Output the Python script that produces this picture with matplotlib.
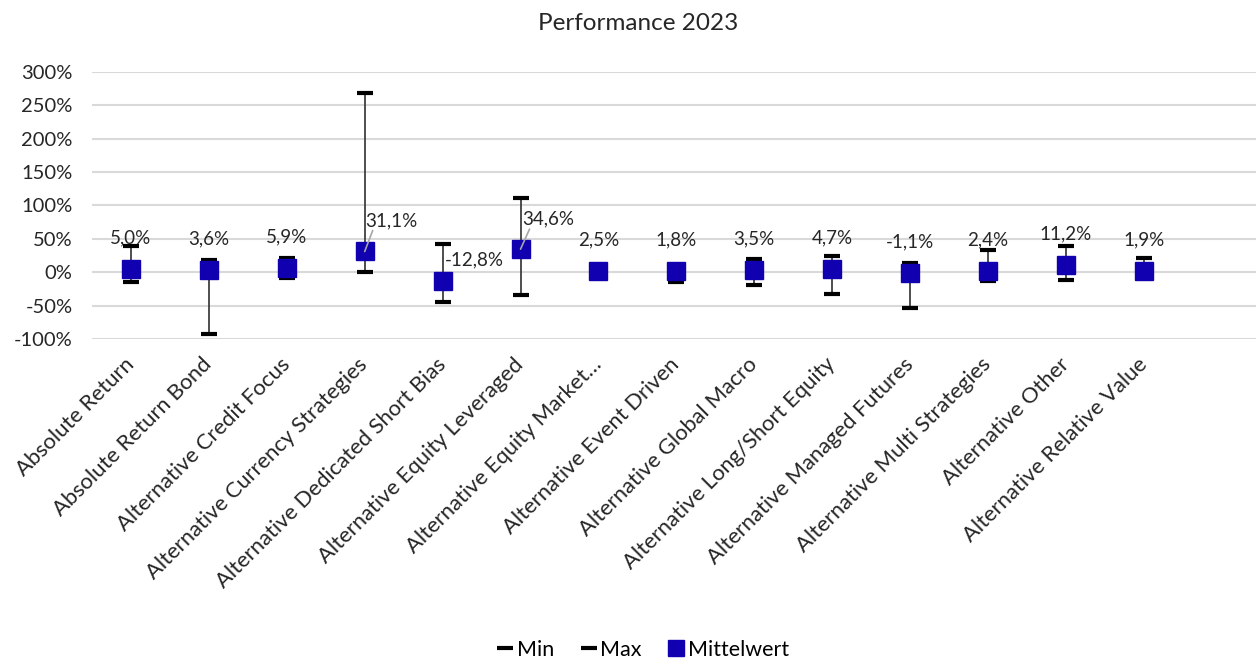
import matplotlib.pyplot as plt
from matplotlib.lines import Line2D

plt.rcParams['font.family'] = ['Lato', 'DejaVu Sans']

categories = ['Absolute Return', 'Absolute Return Bond', 'Alternative Credit Focus',
              'Alternative Currency Strategies', 'Alternative Dedicated Short Bias',
              'Alternative Equity Leveraged', 'Alternative Equity Market…',
              'Alternative Event Driven', 'Alternative Global Macro',
              'Alternative Long/Short Equity', 'Alternative Managed Futures',
              'Alternative Multi Strategies', 'Alternative Other',
              'Alternative Relative Value']
mean_vals = [5.0, 3.6, 5.9, 31.1, -12.8, 34.6, 2.5, 1.8, 3.5, 4.7, -1.1, 2.4, 11.2, 1.9]
min_vals = [-14, -93, -9, 1, -44, -33.5, -2, -14, -18.5, -32, -53, -13.5, -12, -3]
max_vals = [40, 19, 21, 268, 42, 110.5, 8, 10, 20.5, 25, 14, 34, 40, 22]
yticks = [-100, -50, 0, 50, 100, 150, 200, 250, 300]

fig = plt.figure(figsize=(12.56, 6.58), dpi=100)
ax = fig.add_axes([92 / 1256, 1 - 339 / 658, 1 - 92 / 1256, (339 - 72) / 658])

x = list(range(len(categories)))
blue = '#1000b0'

ax.vlines(x, min_vals, max_vals, color='#404040', lw=1.3, zorder=2)
ax.plot(x, min_vals, ls='none', marker='_', ms=11, mew=3, color='black', zorder=3)
ax.plot(x, max_vals, ls='none', marker='_', ms=11, mew=3, color='black', zorder=3)
ax.plot(x, mean_vals, ls='none', marker='s', ms=13.5, color=blue, zorder=4)

# labels sit ~31 px above the marker; a few are pushed right with a leader line
shifted = {3: (27, 31), 4: (32, 21), 5: (28, 30)}
for i, v in enumerate(mean_vals):
    dx, dy = shifted.get(i, (0, 31))
    lbl = f'{v:.1f}%'.replace('.', ',')
    ax.annotate(lbl, (i, v), xytext=(dx * 0.72, dy * 0.72), textcoords='offset points',
                ha='center', va='center', fontsize=13.5, color='#262626', zorder=5)
    if i in (3, 5):
        ax.annotate('', (i, v), xytext=((dx - 19) * 0.72, (dy - 10) * 0.72),
                    textcoords='offset points',
                    arrowprops=dict(arrowstyle='-', color='#a6a6a6', lw=1.2,
                                    shrinkA=0, shrinkB=0), zorder=5)

ax.set_xlim(-0.5, 14.44)
ax.set_ylim(-100, 300)
ax.set_yticks(yticks)
ax.set_yticklabels([f'{t}%' for t in yticks], fontsize=14.5, color='#262626')
ax.set_xticks(x)
ax.set_xticklabels(categories, rotation=45, ha='right', va='center',
                   rotation_mode='anchor', fontsize=15.8, color='#262626')
ax.tick_params(length=0)
ax.tick_params(axis='x', pad=16)
ax.tick_params(axis='y', pad=14)
ax.grid(axis='y', color='#d9d9d9', lw=1.5)
ax.set_axisbelow(True)
for s in ax.spines.values():
    s.set_visible(False)

fig.text(0.508, 1 - 24 / 658, 'Performance 2023', ha='center', va='center',
         fontsize=17.5, color='#262626')

handles = [Line2D([], [], ls='none', marker='_', ms=11, mew=3, color='black'),
           Line2D([], [], ls='none', marker='_', ms=11, mew=3, color='black'),
           Line2D([], [], ls='none', marker='s', ms=11, color=blue)]
fig.legend(handles, ['Min', 'Max', 'Mittelwert'], loc='center', ncol=3,
           bbox_to_anchor=(0.511, 1 - 650 / 658), frameon=False, fontsize=15.5,
           handletextpad=0.05, columnspacing=1.1, handlelength=1.0)

fig.savefig('out.png', dpi=100)
